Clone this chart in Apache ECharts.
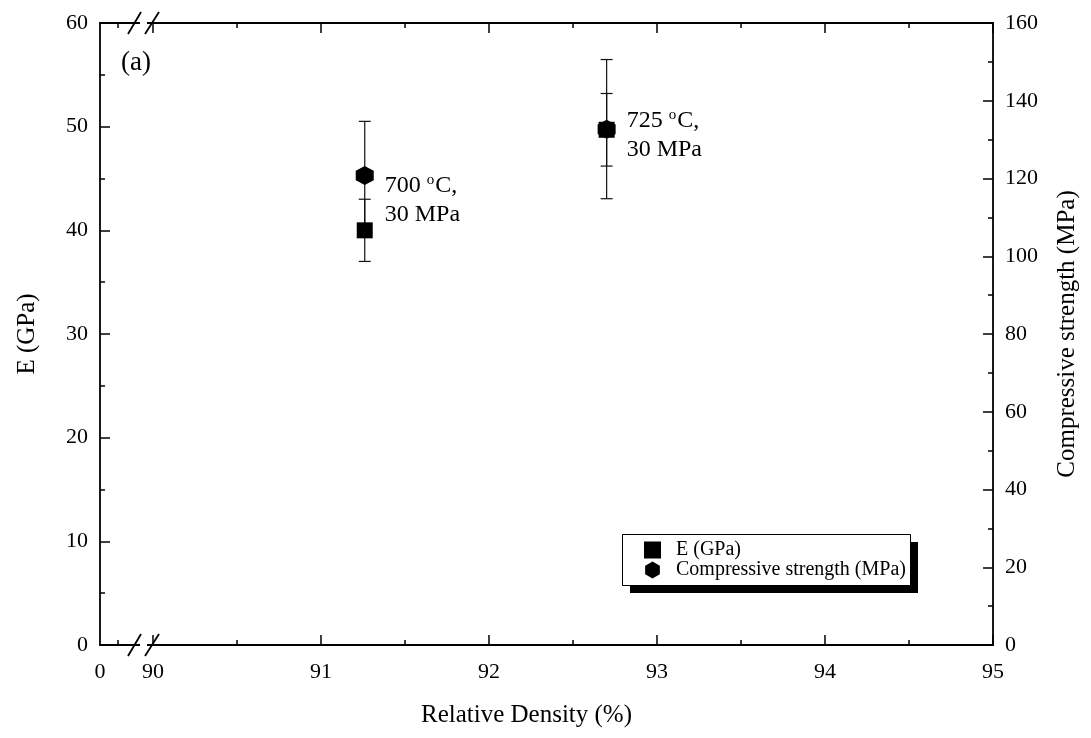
<!DOCTYPE html>
<html>
<head>
<meta charset="utf-8">
<script src="https://cdn.jsdelivr.net/npm/echarts@6/dist/echarts.min.js"></script>
<style>
  html, body { margin: 0; padding: 0; background: #fff; }
  #chart { width: 1091px; height: 738px; }
</style>
</head>
<body>
<div id="chart"></div>
<script>
document.addEventListener('DOMContentLoaded', function () {
    // data
    const density = [91.26, 92.70];
    const modulus = [40.0, 49.7];
    const modulusErr = [3.0, 3.5];
    const strength = [120.8, 132.7];
    const strengthErr = [13.9, 17.9];
    const notes = ['700 {s|o}C,\n30 MPa', '725 {s|o}C,\n30 MPa'];

    // broken x axis: the "0" sits at the left edge, then 90..95
    const xMin = 89.684;
    const xMax = 95;
    const xMajor = [90, 91, 92, 93, 94, 95];
    const xMinor = [89.79, 90.5, 91.5, 92.5, 93.5, 94.5];
    const xLabels = [xMin, 90, 91, 92, 93, 94, 95];

    const serif = 'Liberation Serif, Times New Roman, serif';
    const black = '#000';
    const hexagon = 'path://M0,-1 L0.866,-0.5 L0.866,0.5 L0,1 L-0.866,0.5 L-0.866,-0.5 Z';

    // legend frame (box with a hard drop shadow)
    const legendBox = { x: 622, y: 534, w: 288, h: 51, shadow: 8 };

    const chart = echarts.init(document.getElementById('chart'));

    function errorBar(yIndex, centers, errs) {
        return {
            type: 'custom',
            xAxisIndex: 0,
            yAxisIndex: yIndex,
            silent: true,
            z: 1,
            data: density.map((x, i) => [x, centers[i] - errs[i], centers[i] + errs[i]]),
            renderItem: function (params, api) {
                const lo = api.coord([api.value(0), api.value(1)]);
                const hi = api.coord([api.value(0), api.value(2)]);
                const w = 6;
                const style = { stroke: '#111', lineWidth: 1.2 };
                return {
                    type: 'group',
                    children: [
                        { type: 'line', shape: { x1: lo[0], y1: lo[1], x2: hi[0], y2: hi[1] }, style: style },
                        { type: 'line', shape: { x1: lo[0] - w, y1: lo[1], x2: lo[0] + w, y2: lo[1] }, style: style },
                        { type: 'line', shape: { x1: hi[0] - w, y1: hi[1], x2: hi[0] + w, y2: hi[1] }, style: style }
                    ]
                };
            }
        };
    }

    function xAxisLayer(position, values, len, withLine, withLabel) {
        return {
            type: 'value',
            position: position,
            min: xMin,
            max: xMax,
            axisLine: { show: withLine, onZero: false, lineStyle: { color: black, width: 1.8 } },
            axisTick: { show: true, inside: true, length: len, customValues: values, lineStyle: { color: black, width: 1.5 } },
            axisLabel: withLabel ? {
                show: true,
                customValues: xLabels,
                margin: 16,
                color: black,
                fontFamily: serif,
                fontSize: 22,
                formatter: v => (Math.abs(v - xMin) < 1e-6 ? '0' : String(Math.round(v)))
            } : { show: false },
            splitLine: { show: false },
            name: withLabel ? 'Relative Density (%)' : '',
            nameLocation: 'middle',
            nameGap: 58,
            nameTextStyle: { color: black, fontFamily: serif, fontSize: 25, padding: [0, 40, 0, 0] }
        };
    }

    function yAxisLayer(position, max, interval, name, gap) {
        return {
            type: 'value',
            position: position,
            min: 0,
            max: max,
            interval: interval,
            axisLine: { show: true, onZero: false, lineStyle: { color: black, width: 1.8 } },
            axisTick: { show: true, inside: true, length: 10, lineStyle: { color: black, width: 1.5 } },
            minorTick: { show: true, splitNumber: 2, length: 5, lineStyle: { color: black, width: 1.5 } },
            axisLabel: { color: black, fontFamily: serif, fontSize: 22, margin: 12 },
            splitLine: { show: false },
            minorSplitLine: { show: false },
            name: name,
            nameLocation: 'middle',
            nameGap: gap,
            nameTextStyle: { color: black, fontFamily: serif, fontSize: 25 }
        };
    }

    const options = {
        animation: false,
        backgroundColor: '#fff',
        grid: { left: 100, right: 98, top: 23, bottom: 93 },
        title: {
            text: '(a)',
            left: 121,
            top: 49,
            padding: 0,
            textStyle: { color: black, fontFamily: serif, fontSize: 27, fontWeight: 'normal' }
        },
        legend: {
            orient: 'vertical',
            left: legendBox.x,
            top: legendBox.y,
            padding: [6, 10, 6, 22],
            itemGap: 0,
            itemWidth: 17,
            itemHeight: 17,
            textStyle: { color: black, fontFamily: serif, fontSize: 20, lineHeight: 19, padding: [0, 0, 0, 10] },
            data: ['E (GPa)', 'Compressive strength (MPa)']
        },
        xAxis: [
            xAxisLayer('bottom', xMajor, 10, true, true),
            xAxisLayer('bottom', xMinor, 5, false, false),
            xAxisLayer('top', xMajor, 10, true, false),
            xAxisLayer('top', xMinor, 5, false, false)
        ],
        yAxis: [
            yAxisLayer('left', 60, 10, 'E (GPa)', 60),
            yAxisLayer('right', 160, 20, 'Compressive strength (MPa)', 62)
        ],
        series: [
            errorBar(0, modulus, modulusErr),
            errorBar(1, strength, strengthErr),
            {
                name: 'E (GPa)',
                type: 'scatter',
                xAxisIndex: 0,
                yAxisIndex: 0,
                symbol: 'rect',
                symbolSize: 16,
                itemStyle: { color: black, opacity: 1 },
                z: 3,
                data: density.map((x, i) => [x, modulus[i]])
            },
            {
                name: 'Compressive strength (MPa)',
                type: 'scatter',
                xAxisIndex: 0,
                yAxisIndex: 1,
                symbol: hexagon,
                symbolSize: [18, 19],
                itemStyle: { color: black, opacity: 1 },
                z: 4,
                data: density.map((x, i) => ({
                    value: [x, strength[i]],
                    label: {
                        show: true,
                        position: 'right',
                        distance: 11,
                        offset: [0, i === 0 ? 25 : 6],
                        formatter: notes[i],
                        color: black,
                        fontFamily: serif,
                        fontSize: 24,
                        lineHeight: 29,
                        rich: {
                            s: { fontSize: 15, fontFamily: serif, color: black, padding: [0, 1, 12, 0] }
                        }
                    }
                }))
            }
        ]
    };
    chart.setOption(options);

    // "//" break marks on the top and bottom axes, plus the legend frame
    const rect = chart.getModel().getComponent('grid').coordinateSystem.getRect();
    const cx = chart.convertToPixel({ xAxisIndex: 0 }, 89.946);
    const marks = [];
    [rect.y, rect.y + rect.height].forEach(function (y) {
        marks.push({ type: 'rect', shape: { x: cx - 4, y: y - 3, width: 7, height: 6 }, style: { fill: '#fff' }, z: 100 });
        marks.push({ type: 'line', shape: { x1: cx - 16, y1: y + 11, x2: cx - 3, y2: y - 11 }, style: { stroke: black, lineWidth: 1.8 }, z: 101 });
        marks.push({ type: 'line', shape: { x1: cx + 1, y1: y + 11, x2: cx + 15, y2: y - 11 }, style: { stroke: black, lineWidth: 1.8 }, z: 101 });
    });
    const b = legendBox;
    marks.push({ type: 'rect', shape: { x: b.x + b.shadow, y: b.y + b.shadow, width: b.w, height: b.h }, style: { fill: black }, z: 0, zlevel: 0 });
    marks.push({ type: 'rect', shape: { x: b.x + 0.5, y: b.y + 0.5, width: b.w, height: b.h }, style: { fill: '#fff', stroke: black, lineWidth: 1 }, z: 0, zlevel: 0 });
    chart.setOption({ graphic: marks });
});
</script>
</body>
</html>
